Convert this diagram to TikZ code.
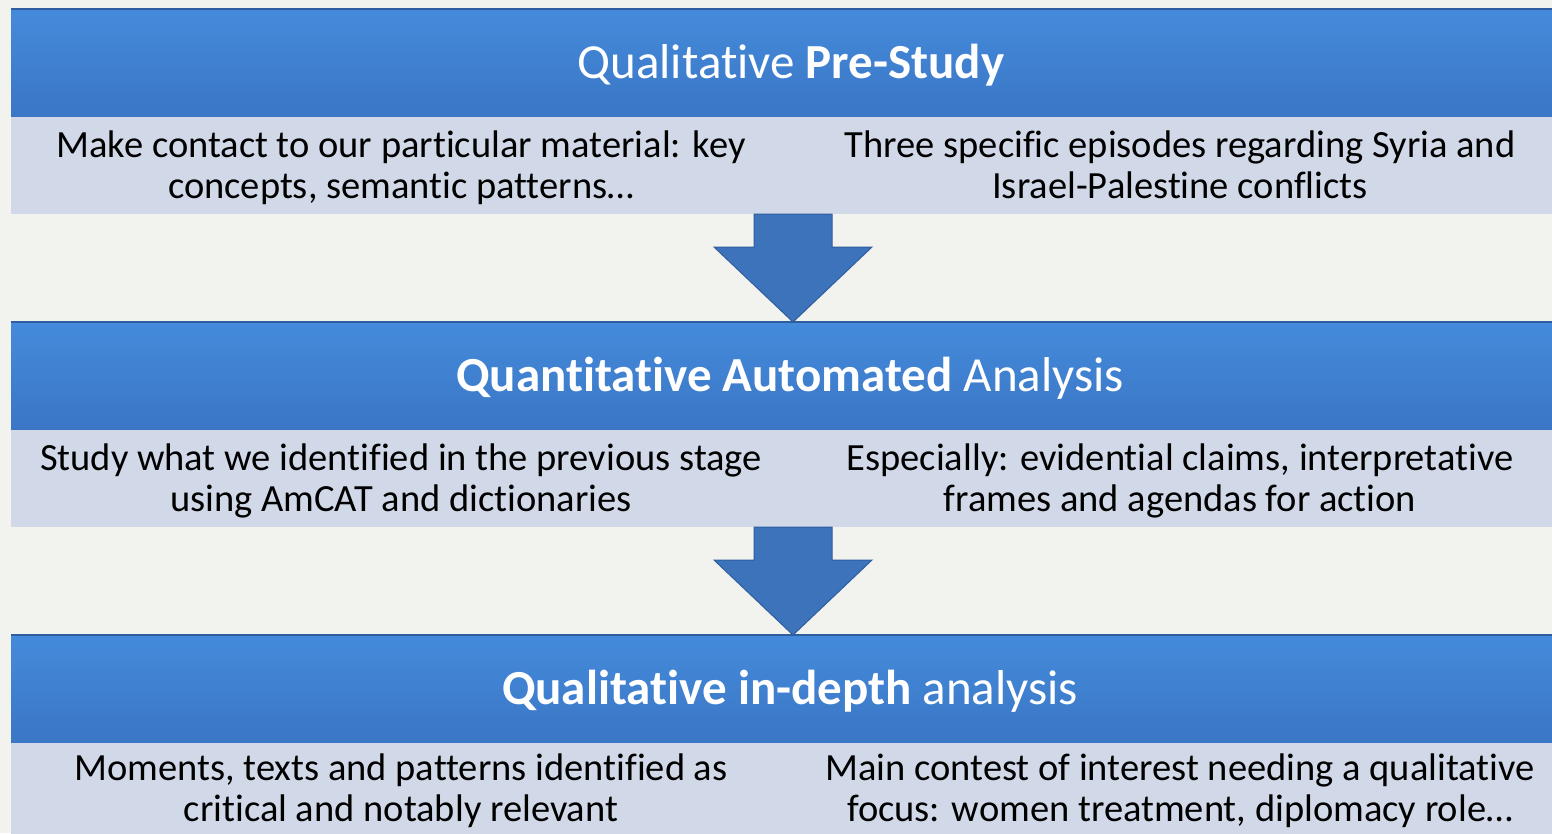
\documentclass[tikz,border=0pt]{standalone}
\usepackage{fontspec}
\setmainfont[Ligatures=NoCommon]{Carlito}
\definecolor{bgc}{HTML}{F2F2EE}
\definecolor{bluetop}{HTML}{458BDB}
\definecolor{bluebot}{HTML}{3A76C5}
\definecolor{blueedge}{HTML}{2E5E9E}
\definecolor{grayband}{HTML}{D1D9E8}
\definecolor{arrowc}{HTML}{3C73BB}
\tikzset{
  band/.style={top color=bluetop, bottom color=bluebot, draw=none},
  bandtop/.style={draw=blueedge, line width=1.5pt},
  subband/.style={fill=grayband, draw=none},
  titletext/.style={text=white, font=\fontsize{49}{53}\selectfont, inner sep=0pt, anchor=base},
  bodytext/.style={text=black, font=\fontsize{38.5}{41}\selectfont, align=center, inner sep=0pt, text depth=0pt},
  blockarrow/.style={fill=arrowc, draw=blueedge, line width=1pt, line join=miter}
}
\begin{document}
\begin{tikzpicture}[x=1pt,y=-1pt]
\useasboundingbox (0,0) rectangle (1552,833);
\fill[bgc] (0,0) rectangle (1552,833);
% bands
\foreach \o/\n in {0/1,313/2,626/3}{
  \shade[band] (11,8+\o) rectangle (1552,117+\o);
  \draw[bandtop] (11,8.75+\o) -- (1552,8.75+\o);
  \fill[subband] (11,117+\o) rectangle (1552,214+\o);
}
% arrows
\foreach \o in {0,313}{
  \draw[blockarrow] (754,214+\o) -- (832,214+\o) -- (832,247+\o) -- (872,247+\o)
    -- (793,322+\o) -- (714,247+\o) -- (754,247+\o) -- cycle;
}
% titles
\node[titletext] (t1) at (791,78) {Qualitative \textbf{Pre-Study}};
\node[titletext] (t2) at (790,391) {\textbf{Quantitative Automated} Analysis};
\node[titletext] (t3) at (790,704) {\textbf{Qualitative in-depth} analysis};
% body texts
\node[bodytext] (l1) at (401,165) {Make contact to our particular material: key\\concepts, semantic patterns\ldots};
\node[bodytext] (r1) at (1180,165) {Three specific episodes regarding Syria and\\Israel-Palestine conflicts};
\node[bodytext] (l2) at (401,478) {Study what we identified in the previous stage\\using AmCAT and dictionaries};
\node[bodytext] (r2) at (1180,478) {Especially: evidential claims, interpretative\\frames and agendas for action};
\node[bodytext] (l3) at (401,788) {Moments, texts and patterns identified as\\critical and notably relevant};
\node[bodytext] (r3) at (1180,788) {Main contest of interest needing a qualitative\\focus: women treatment, diplomacy role\ldots};
\end{tikzpicture}
\end{document}
